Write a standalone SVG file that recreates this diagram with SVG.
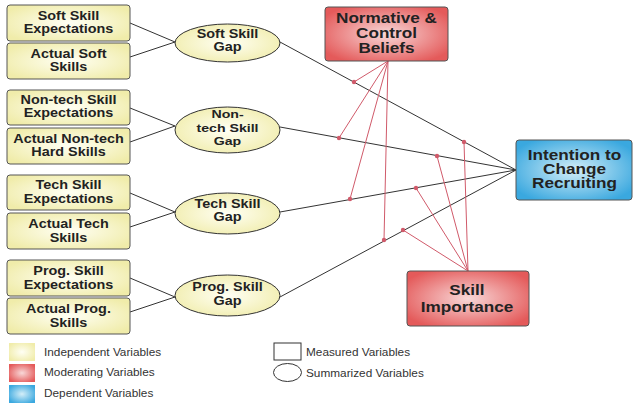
<svg xmlns="http://www.w3.org/2000/svg" width="634" height="404" viewBox="0 0 634 404">
<style>
.t{font-family:"Liberation Sans",Arial,sans-serif;font-weight:bold;font-size:12px;fill:#222;text-anchor:middle}
.ts{font-size:11.6px}
.tb{font-size:14.3px}
.lg{font-family:"Liberation Sans",Arial,sans-serif;font-size:11.8px;fill:#333}
.box{fill:url(#gy);stroke:#555;stroke-width:1}
.ell{fill:url(#gy);stroke:#333;stroke-width:1}
.ln{stroke:#333;stroke-width:1;fill:none}
.rl{stroke:#d05a6a;stroke-width:1;fill:none}
.dot{fill:#d05a6a}
</style>
<defs>
<radialGradient id="gy" cx="50%" cy="50%" r="60%"><stop offset="0" stop-color="#fffff4"/><stop offset="1" stop-color="#f0ecaa"/></radialGradient>
<radialGradient id="gr" cx="50%" cy="50%" r="60%"><stop offset="0" stop-color="#f8d8d8"/><stop offset="1" stop-color="#e45a5a"/></radialGradient>
<radialGradient id="gb" cx="50%" cy="50%" r="60%"><stop offset="0" stop-color="#d4eef8"/><stop offset="1" stop-color="#3aa8df"/></radialGradient>
</defs>
<rect width="634" height="404" fill="#fff"/>

<g id="connectors">
<line class="ln" x1="130" y1="23" x2="175" y2="42"/>
<line class="ln" x1="130" y1="57" x2="175" y2="42"/>
<line class="ln" x1="130" y1="108" x2="175" y2="126"/>
<line class="ln" x1="130" y1="142" x2="175" y2="126"/>
<line class="ln" x1="130" y1="193" x2="175" y2="212"/>
<line class="ln" x1="130" y1="227" x2="175" y2="212"/>
<line class="ln" x1="130" y1="278" x2="175" y2="297"/>
<line class="ln" x1="130" y1="312" x2="175" y2="297"/>
<line class="ln" x1="280" y1="42" x2="516" y2="170"/>
<line class="ln" x1="280" y1="127" x2="516" y2="170"/>
<line class="ln" x1="280" y1="212" x2="516" y2="170"/>
<line class="ln" x1="280" y1="297" x2="516" y2="170"/>
<line class="rl" x1="388" y1="61" x2="354" y2="82"/>
<line class="rl" x1="388" y1="61" x2="339" y2="138"/>
<line class="rl" x1="388" y1="61" x2="350" y2="199"/>
<line class="rl" x1="388" y1="61" x2="384" y2="240"/>
<line class="rl" x1="468" y1="271" x2="464" y2="142"/>
<line class="rl" x1="468" y1="271" x2="437" y2="156"/>
<line class="rl" x1="468" y1="271" x2="416" y2="188"/>
<line class="rl" x1="468" y1="271" x2="403" y2="230"/>
<circle class="dot" cx="354" cy="82" r="2.2"/>
<circle class="dot" cx="339" cy="138" r="2.2"/>
<circle class="dot" cx="350" cy="199" r="2.2"/>
<circle class="dot" cx="384" cy="240" r="2.2"/>
<circle class="dot" cx="464" cy="142" r="2.2"/>
<circle class="dot" cx="437" cy="156" r="2.2"/>
<circle class="dot" cx="416" cy="188" r="2.2"/>
<circle class="dot" cx="403" cy="230" r="2.2"/>
</g>

<g id="soft-exp"><rect class="box" x="7" y="5" width="123" height="36" rx="3"/>
<text class="t" transform="translate(68.5,0) scale(1.2,1)"><tspan x="0" y="20">Soft Skill</tspan><tspan x="0" y="33.5">Expectations</tspan></text></g>
<g id="soft-act"><rect class="box" x="7" y="43" width="123" height="36" rx="3"/>
<text class="t" transform="translate(68.5,0) scale(1.2,1)"><tspan x="0" y="58">Actual Soft</tspan><tspan x="0" y="71.5">Skills</tspan></text></g>
<g id="nontech-exp"><rect class="box" x="7" y="90" width="123" height="35" rx="3"/>
<text class="t" transform="translate(68.5,0) scale(1.2,1)"><tspan x="0" y="104">Non-tech Skill</tspan><tspan x="0" y="117.5">Expectations</tspan></text></g>
<g id="nontech-act"><rect class="box" x="7" y="128" width="123" height="36" rx="3"/>
<text class="t" transform="translate(68.5,0) scale(1.2,1)"><tspan x="0" y="143">Actual Non-tech</tspan><tspan x="0" y="156.5">Hard Skills</tspan></text></g>
<g id="tech-exp"><rect class="box" x="7" y="175" width="123" height="35" rx="3"/>
<text class="t" transform="translate(68.5,0) scale(1.2,1)"><tspan x="0" y="189.5">Tech Skill</tspan><tspan x="0" y="203">Expectations</tspan></text></g>
<g id="tech-act"><rect class="box" x="7" y="213" width="123" height="36" rx="3"/>
<text class="t" transform="translate(68.5,0) scale(1.2,1)"><tspan x="0" y="228.5">Actual Tech</tspan><tspan x="0" y="242">Skills</tspan></text></g>
<g id="prog-exp"><rect class="box" x="7" y="260" width="123" height="36" rx="3"/>
<text class="t" transform="translate(68.5,0) scale(1.2,1)"><tspan x="0" y="275.5">Prog. Skill</tspan><tspan x="0" y="289">Expectations</tspan></text></g>
<g id="prog-act"><rect class="box" x="7" y="298" width="123" height="36" rx="3"/>
<text class="t" transform="translate(68.5,0) scale(1.2,1)"><tspan x="0" y="313.5">Actual Prog.</tspan><tspan x="0" y="327">Skills</tspan></text></g>

<g id="soft-gap"><ellipse class="ell" cx="227.5" cy="43" rx="52.5" ry="19"/>
<text class="t" transform="translate(227.5,0) scale(1.2,1)"><tspan x="0" y="38.5">Soft Skill</tspan><tspan x="0" y="51">Gap</tspan></text></g>
<g id="nontech-gap"><ellipse class="ell" cx="227.5" cy="130" rx="52.5" ry="23"/>
<text class="t ts" transform="translate(227.5,0) scale(1.22,1)"><tspan x="0" y="118">Non-</tspan><tspan x="0" y="132">tech Skill</tspan><tspan x="0" y="145">Gap</tspan></text></g>
<g id="tech-gap"><ellipse class="ell" cx="227.5" cy="213.5" rx="52.5" ry="20.5"/>
<text class="t" transform="translate(227.5,0) scale(1.2,1)"><tspan x="0" y="208.5">Tech Skill</tspan><tspan x="0" y="221.5">Gap</tspan></text></g>
<g id="prog-gap"><ellipse class="ell" cx="227.5" cy="295.5" rx="52.5" ry="20.5"/>
<text class="t" transform="translate(227.5,0) scale(1.2,1)"><tspan x="0" y="291.5">Prog. Skill</tspan><tspan x="0" y="305">Gap</tspan></text></g>

<g id="normative"><rect x="325" y="7" width="123" height="54" rx="3" fill="url(#gr)" stroke="#555"/>
<text class="t tb" transform="translate(386.5,0) scale(1.2,1)"><tspan x="0" y="23">Normative &amp;</tspan><tspan x="0" y="38">Control</tspan><tspan x="0" y="53">Beliefs</tspan></text></g>
<g id="intention"><rect x="516" y="140" width="116" height="60" rx="3" fill="url(#gb)" stroke="#555"/>
<text class="t tb" transform="translate(574.5,0) scale(1.2,1)"><tspan x="0" y="160">Intention to</tspan><tspan x="0" y="174">Change</tspan><tspan x="0" y="188">Recruiting</tspan></text></g>
<g id="importance"><rect x="407" y="271" width="122" height="55" rx="3" fill="url(#gr)" stroke="#555"/>
<text class="t tb" transform="translate(467,0) scale(1.2,1)"><tspan x="0" y="295">Skill</tspan><tspan x="0" y="312">Importance</tspan></text></g>

<g id="legend">
<rect x="9" y="343" width="26" height="18" fill="url(#gy)"/>
<rect x="9" y="364" width="26" height="18" fill="url(#gr)"/>
<rect x="9" y="385" width="26" height="18" fill="url(#gb)"/>
<text class="lg" x="44" y="355.5">Independent Variables</text>
<text class="lg" x="44" y="376">Moderating Variables</text>
<text class="lg" x="44" y="397">Dependent Variables</text>
<rect x="274" y="343" width="27" height="17" fill="none" stroke="#333"/>
<ellipse cx="287.5" cy="372.5" rx="14" ry="9" fill="none" stroke="#333"/>
<text class="lg" x="306" y="356">Measured Variables</text>
<text class="lg" x="306" y="377">Summarized Variables</text>
</g>
</svg>
